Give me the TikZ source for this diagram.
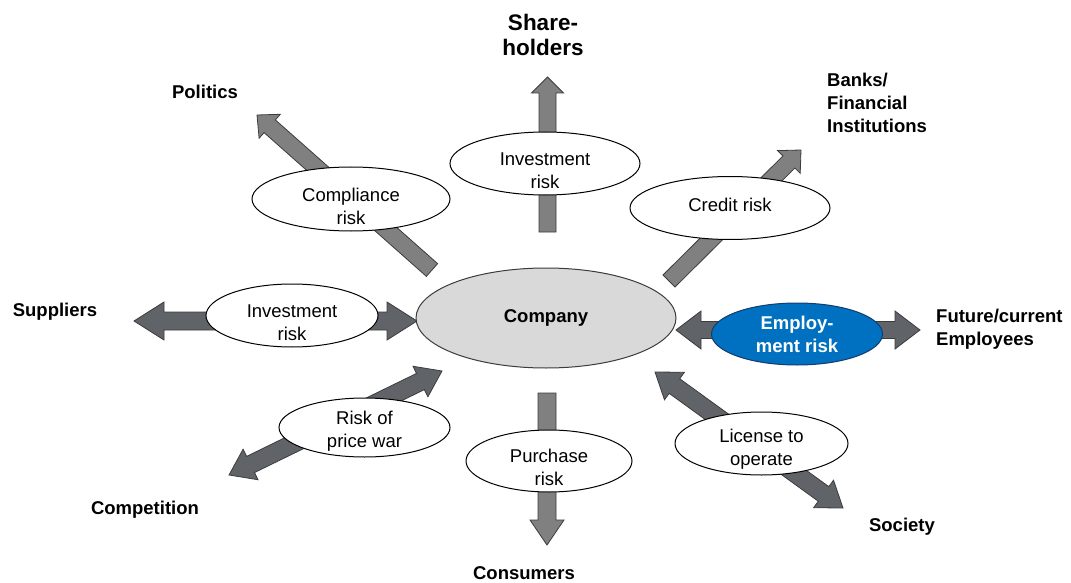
\documentclass[tikz,border=0pt]{standalone}
\usepackage{fontspec}
\setmainfont{Liberation Sans}
\usetikzlibrary{calc,shapes.geometric}
\definecolor{singlegray}{RGB}{128,128,128}
\definecolor{doublegray}{RGB}{96,99,104}
\definecolor{edgegray}{RGB}{60,60,60}
\definecolor{compfill}{RGB}{217,217,217}
\definecolor{empblue}{RGB}{0,112,192}
\definecolor{empedge}{RGB}{20,60,110}
\newcommand{\sarrow}[6]{%
  \coordinate (hh) at ($(#3)!#6!(#2)$);
  \draw[#1] ($(#2)!#4!90:(#3)$) -- ($(hh)!#4!90:(#3)$) -- ($(hh)!#5!90:(#3)$) -- (#3)
    -- ($(hh)!#5!-90:(#3)$) -- ($(hh)!#4!-90:(#3)$) -- ($(#2)!#4!-90:(#3)$) -- cycle;
}
\newcommand{\darrow}[6]{%
  \coordinate (ha) at ($(#2)!#6!(#3)$);
  \coordinate (hb) at ($(#3)!#6!(#2)$);
  \draw[#1] (#2) -- ($(ha)!#5!90:(#3)$) -- ($(ha)!#4!90:(#3)$) -- ($(hb)!#4!90:(#3)$)
    -- ($(hb)!#5!90:(#3)$) -- (#3) -- ($(hb)!#5!-90:(#3)$) -- ($(hb)!#4!-90:(#3)$)
    -- ($(ha)!#4!-90:(#3)$) -- ($(ha)!#5!-90:(#3)$) -- cycle;
}
\tikzset{
  sarr/.style={fill=singlegray, draw=edgegray, line width=0.8pt, line join=miter},
  darr/.style={fill=doublegray, draw=edgegray, line width=0.8pt, line join=miter},
  riskell/.style={ellipse, draw=black, fill=white, line width=1pt, inner sep=0pt},
  risktxt/.style={align=center, inner sep=0pt, font=\fontsize{18.5}{23}\selectfont},
  lbl/.style={align=center, inner sep=0pt, font=\fontsize{18.5}{23}\selectfont\bfseries},
  lbll/.style={align=left, anchor=west, inner sep=0pt, font=\fontsize{18.5}{23}\selectfont\bfseries},
}
\begin{document}
\begin{tikzpicture}[x=1pt,y=-1pt]
\useasboundingbox (0,0) rectangle (1071,583);
% arrow end coordinates
\coordinate (upT) at (547.5,232);  \coordinate (upH) at (547.5,77);
\coordinate (dnT) at (547,393);    \coordinate (dnH) at (547,545);
\coordinate (coT) at (432,270);    \coordinate (coH) at (257,115);
\coordinate (crT) at (669,281);    \coordinate (crH) at (801,150);
\coordinate (suA) at (134,321);    \coordinate (suB) at (417,321);
\coordinate (emA) at (676,330);    \coordinate (emB) at (920,330);
\coordinate (pwA) at (442,371);    \coordinate (pwB) at (229,475);
\coordinate (liA) at (655,372);    \coordinate (liB) at (843,508);
% arrows
\sarrow{sarr}{upT}{upH}{8.5pt}{16pt}{16pt}
\sarrow{sarr}{dnT}{dnH}{9pt}{17pt}{25pt}
\sarrow{sarr}{coT}{coH}{8.5pt}{16pt}{17pt}
\sarrow{sarr}{crT}{crH}{8.5pt}{16pt}{17pt}
\darrow{darr}{suA}{suB}{9pt}{19pt}{30pt}
\darrow{darr}{emA}{emB}{8.5pt}{19pt}{25pt}
\darrow{darr}{pwA}{pwB}{9pt}{17pt}{24pt}
\darrow{darr}{liA}{liB}{9pt}{17pt}{24pt}
% company
\node[ellipse, draw=edgegray, fill=compfill, line width=1pt, minimum width=260pt, minimum height=100pt, inner sep=0pt] (comp) at (546,318) {};
\node[lbl] (compt) at (comp) {Company};
% risk ellipses
\node[riskell, minimum width=190pt, minimum height=63pt] (inv1) at (545,163.5) {};
\node[risktxt] (inv1t) at (545,171) {Investment\\risk};
\node[riskell, minimum width=198pt, minimum height=64pt] (compl) at (351,199) {};
\node[risktxt] (complt) at (351,206) {Compliance\\risk};
\node[riskell, minimum width=200pt, minimum height=63pt] (cred) at (730,208) {};
\node[risktxt] (credt) at (730,205) {Credit risk};
\node[riskell, minimum width=172pt, minimum height=63pt] (inv2) at (292,315.5) {};
\node[risktxt] (inv2t) at (292,323) {Investment\\risk};
\node[ellipse, draw=empedge, fill=empblue, line width=1pt, inner sep=0pt, minimum width=171pt, minimum height=62pt] (emp) at (797,334) {};
\node[lbl, text=white] (empt) at (797,334) {Employ-\\ment risk};
\node[riskell, minimum width=171pt, minimum height=59pt] (pw) at (364.5,427.5) {};
\node[risktxt] (pwt) at (364.5,431) {Risk of\\price war};
\node[riskell, minimum width=173pt, minimum height=63pt] (lic) at (761.5,443.5) {};
\node[risktxt] (lict) at (761.5,449) {License to\\operate};
\node[riskell, minimum width=166pt, minimum height=62pt] (pur) at (549,461) {};
\node[risktxt] (purt) at (549,467) {Purchase\\risk};
% stakeholder labels
\node[align=center, inner sep=0pt, font=\fontsize{22.5}{25}\selectfont\bfseries] (share) at (543,34.5) {Share-\\holders};
\node[lbl] (pol) at (205,92) {Politics};
\node[lbll] (bank) at (827,103) {Banks/\\Financial\\Institutions};
\node[lbl] (sup) at (55,312) {Suppliers};
\node[lbll] (fut) at (936,329.5) {Future/current\\Employees};
\node[lbl] (compet) at (145,510) {Competition};
\node[lbl] (soc) at (902,527) {Society};
\node[lbl] (cons) at (524,573) {Consumers};
\end{tikzpicture}
\end{document}
